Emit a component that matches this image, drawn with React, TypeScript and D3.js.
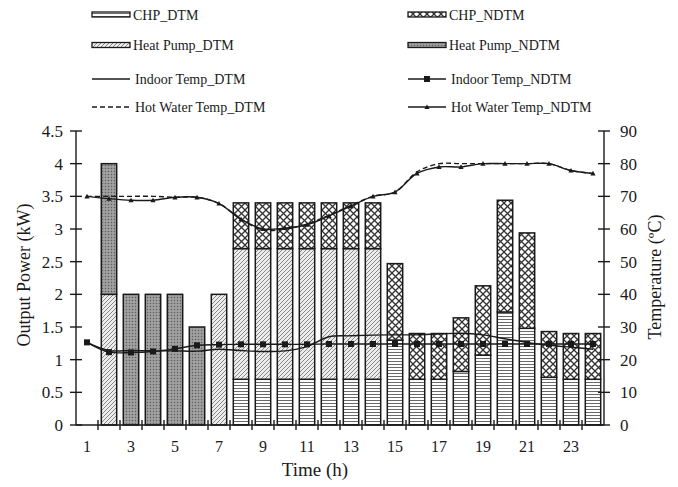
import * as d3 from 'd3';

// hours of the day
const hours = ['1', '2', '3', '4', '5', '6', '7', '8', '9', '10', '11', '12', '13', '14', '15', '16', '17', '18', '19', '20', '21', '22', '23', '24'];
const hourLabels = ['1', '3', '5', '7', '9', '11', '13', '15', '17', '19', '21', '23'];
const powerTicks = [0, 0.5, 1, 1.5, 2, 2.5, 3, 3.5, 4, 4.5];
const tempTicks = [0, 10, 20, 30, 40, 50, 60, 70, 80, 90];

// output power (kW)
const chpDTM = [0, 0, 0, 0, 0, 0, 0, 0.7, 0.7, 0.7, 0.7, 0.7, 0.7, 0.7, 1.3, 0.7, 0.7, 0.82, 1.07, 1.73, 1.48, 0.73, 0.7, 0.7];
const heatPumpDTM = [0, 2, 0, 0, 0, 0, 2, 2, 2, 2, 2, 2, 2, 2, 0, 0, 0, 0, 0, 0, 0, 0, 0, 0];
const chpNDTM = [0, 0, 0, 0, 0, 0, 0, 0.7, 0.7, 0.7, 0.7, 0.7, 0.7, 0.7, 1.17, 0.7, 0.7, 0.82, 1.06, 1.71, 1.46, 0.7, 0.7, 0.7];
const heatPumpNDTM = [0, 2, 2, 2, 2, 1.5, 0, 0, 0, 0, 0, 0, 0, 0, 0, 0, 0, 0, 0, 0, 0, 0, 0, 0];

// temperatures (°C)
const indoorDTM = [25.3, 22.8, 22.8, 22.7, 22.7, 22.6, 23.2, 22.8, 22.5, 22.7, 24.0, 27.0, 27.3, 27.5, 27.6, 27.6, 27.9, 28.1, 27.6, 26.4, 25.3, 24.4, 23.8, 23.2];
const indoorNDTM = [25.3, 22.3, 22.2, 22.5, 23.3, 24.4, 24.6, 24.7, 24.7, 24.7, 24.7, 24.8, 24.8, 24.8, 24.8, 24.8, 24.8, 24.8, 24.8, 24.8, 24.8, 24.8, 24.8, 24.8];
const hotWaterDTM = [70, 70, 70, 70, 69.7, 69.7, 67.8, 63, 59.7, 60, 61.5, 64.2, 67.2, 70, 71.3, 77.5, 80, 80, 80, 80, 80, 80, 77.9, 77];
const hotWaterNDTM = [70, 69.3, 68.8, 68.8, 69.7, 69.7, 67.8, 63, 60, 60.3, 61.3, 64, 67, 70, 71.3, 77, 79, 79, 80, 80, 80, 80, 77.9, 77];

const FONT = '"Liberation Serif", "Times New Roman", serif';
const INK = '#1a1a1a';

const keys = ['chpDTM', 'heatPumpDTM', 'chpNDTM', 'heatPumpNDTM'];
const fills: any = {
  chpDTM: 'url(#pHoriz)',
  heatPumpDTM: 'url(#pDiag)',
  chpNDTM: 'url(#pCross)',
  heatPumpNDTM: 'url(#pDots)',
};

function App() {
  const left = 76, right = 604, top = 131, bottom = 425;

  const x = d3.scaleBand().domain(hours).range([left, right]).paddingInner(0.3).paddingOuter(0.15);
  const yP = d3.scaleLinear().domain([0, 4.5]).range([bottom, top]);
  const yT = d3.scaleLinear().domain([0, 90]).range([bottom, top]);
  const cx = (h: string) => (x(h) as number) + x.bandwidth() / 2;

  const table = hours.map((h, i) => ({
    hour: h,
    chpDTM: chpDTM[i],
    heatPumpDTM: heatPumpDTM[i],
    chpNDTM: chpNDTM[i],
    heatPumpNDTM: heatPumpNDTM[i],
  }));
  const stacked = d3.stack<any>().keys(keys)(table);

  const line = d3
    .line<number>()
    .x((_, i) => cx(hours[i]))
    .y((d) => yT(d))
    .curve(d3.curveCatmullRom.alpha(0.5));

  const gap = (x.step() - x.bandwidth()) / 2;
  const xTicks = hours.map((h) => (x(h) as number) - gap).slice(1);

  const legendL = 92, legendR = 408, sw = 38;
  const rows = [14.5, 45, 79, 107];

  const tri = (px: number, py: number, s: number) =>
    `M${px},${py - s} L${px + s},${py + s * 0.8} L${px - s},${py + s * 0.8} Z`;

  return (
    <svg width={678} height={487} style={{ position: 'absolute', left: 0, top: 0, background: '#fff' }} fontFamily={FONT}>
      <defs>
        <pattern id="pHoriz" width="4" height="3" patternUnits="userSpaceOnUse">
          <rect width="4" height="3" fill="#fff" />
          <line x1="0" x2="4" y1="1.5" y2="1.5" stroke="#6a6a6a" strokeWidth="1" />
        </pattern>
        <pattern id="pDiag" width="4" height="4" patternUnits="userSpaceOnUse">
          <rect width="4" height="4" fill="#ececec" />
          <path d="M-1,1 l2,-2 M0,4 l4,-4 M3,5 l2,-2" stroke="#8a8a8a" strokeWidth="1" />
        </pattern>
        <pattern id="pCross" width="7" height="7" patternUnits="userSpaceOnUse">
          <rect width="7" height="7" fill="#fff" />
          <path d="M0,0 L7,7 M7,0 L0,7" stroke="#333" strokeWidth="1.3" />
        </pattern>
        <pattern id="pDots" width="3" height="3" patternUnits="userSpaceOnUse">
          <rect width="3" height="3" fill="#959595" />
          <rect x="0" y="0" width="1" height="1" fill="#5e5e5e" />
          <rect x="1.5" y="1.5" width="1" height="1" fill="#c4c4c4" />
        </pattern>
      </defs>

      {/* bars */}
      {stacked.map((s: any) => (
        <g key={s.key}>
          {s.map((d: any) =>
            d[1] - d[0] > 0 ? (
              <rect
                key={d.data.hour}
                x={x(d.data.hour)}
                y={yP(d[1])}
                width={x.bandwidth()}
                height={yP(d[0]) - yP(d[1])}
                fill={fills[s.key]}
                stroke={INK}
                strokeWidth={1.5}
              />
            ) : null
          )}
        </g>
      ))}

      {/* temperature lines */}
      <path d={line(hotWaterDTM) as string} fill="none" stroke={INK} strokeWidth={1.4} strokeDasharray="5,3" />
      <path d={line(hotWaterNDTM) as string} fill="none" stroke={INK} strokeWidth={1.4} />
      <path d={line(indoorDTM) as string} fill="none" stroke={INK} strokeWidth={1.4} />
      <path d={line(indoorNDTM) as string} fill="none" stroke={INK} strokeWidth={1.4} />
      {hotWaterNDTM.map((v, i) => (
        <path key={'t' + i} d={tri(cx(hours[i]), yT(v), 2.6)} fill={INK} />
      ))}
      {indoorNDTM.map((v, i) => (
        <rect key={'s' + i} x={cx(hours[i]) - 3} y={yT(v) - 3} width={6} height={6} fill={INK} />
      ))}

      {/* x axis */}
      <line x1={left} x2={right} y1={bottom} y2={bottom} stroke={INK} strokeWidth={1.4} />
      {xTicks.map((t, i) => (
        <line key={i} x1={t} x2={t} y1={bottom - 5} y2={bottom + 5} stroke={INK} strokeWidth={1.4} />
      ))}
      {hourLabels.map((h) => (
        <text key={h} x={cx(h)} y={452} fontSize={16} textAnchor="middle" fill={INK}>
          {h}
        </text>
      ))}
      <text x={315} y={476} fontSize={19} textAnchor="middle" fill={INK}>
        Time (h)
      </text>

      {/* left axis */}
      <line x1={left} x2={left} y1={top} y2={bottom} stroke={INK} strokeWidth={1.4} />
      {powerTicks.map((t) => (
        <g key={t}>
          <line x1={left - 6} x2={left + 6} y1={yP(t)} y2={yP(t)} stroke={INK} strokeWidth={1.4} />
          <text x={63} y={yP(t) + 6} fontSize={17} textAnchor="end" fill={INK}>
            {t}
          </text>
        </g>
      ))}
      <text transform="translate(30,275) rotate(-90)" fontSize={18} textAnchor="middle" fill={INK}>
        Output Power (kW)
      </text>

      {/* right axis */}
      <line x1={right} x2={right} y1={top} y2={bottom} stroke={INK} strokeWidth={1.4} />
      {tempTicks.map((t) => (
        <g key={t}>
          <line x1={right - 6} x2={right + 6} y1={yT(t)} y2={yT(t)} stroke={INK} strokeWidth={1.4} />
          <text x={620} y={yT(t) + 6} fontSize={17} textAnchor="start" fill={INK}>
            {t}
          </text>
        </g>
      ))}
      <text transform="translate(661,277) rotate(-90)" fontSize={18} textAnchor="middle" fill={INK}>
        Temperature (ºC)
      </text>

      {/* legend */}
      <g fontSize={14} fill={INK}>
        <rect x={legendL} y={rows[0] - 2.5} width={sw} height={5} fill="url(#pHoriz)" stroke={INK} strokeWidth={1.3} />
        <text x={legendL + sw + 3} y={rows[0] + 5}>CHP_DTM</text>
        <rect x={legendL} y={rows[1] - 2.5} width={sw} height={5} fill="url(#pDiag)" stroke={INK} strokeWidth={1.3} />
        <text x={legendL + sw + 3} y={rows[1] + 5}>Heat Pump_DTM</text>
        <line x1={legendL} x2={legendL + sw} y1={rows[2]} y2={rows[2]} stroke={INK} strokeWidth={1.4} />
        <text x={legendL + sw + 5} y={rows[2] + 5}>Indoor Temp_DTM</text>
        <line x1={legendL} x2={legendL + sw} y1={rows[3]} y2={rows[3]} stroke={INK} strokeWidth={1.4} strokeDasharray="5,3" />
        <text x={legendL + sw + 5} y={rows[3] + 5}>Hot Water Temp_DTM</text>

        <rect x={legendR} y={rows[0] - 2.5} width={sw} height={5} fill="url(#pCross)" stroke={INK} strokeWidth={1.3} />
        <text x={legendR + sw + 3} y={rows[0] + 5}>CHP_NDTM</text>
        <rect x={legendR} y={rows[1] - 2.5} width={sw} height={5} fill="url(#pDots)" stroke={INK} strokeWidth={1.3} />
        <text x={legendR + sw + 3} y={rows[1] + 5}>Heat Pump_NDTM</text>
        <line x1={legendR} x2={legendR + sw} y1={rows[2]} y2={rows[2]} stroke={INK} strokeWidth={1.4} />
        <rect x={legendR + sw / 2 - 3} y={rows[2] - 3} width={6} height={6} fill={INK} />
        <text x={legendR + sw + 5} y={rows[2] + 5}>Indoor Temp_NDTM</text>
        <line x1={legendR} x2={legendR + sw} y1={rows[3]} y2={rows[3]} stroke={INK} strokeWidth={1.4} />
        <path d={tri(legendR + sw / 2, rows[3], 2.6)} fill={INK} />
        <text x={legendR + sw + 5} y={rows[3] + 5}>Hot Water Temp_NDTM</text>
      </g>
    </svg>
  );
}

export default App;
